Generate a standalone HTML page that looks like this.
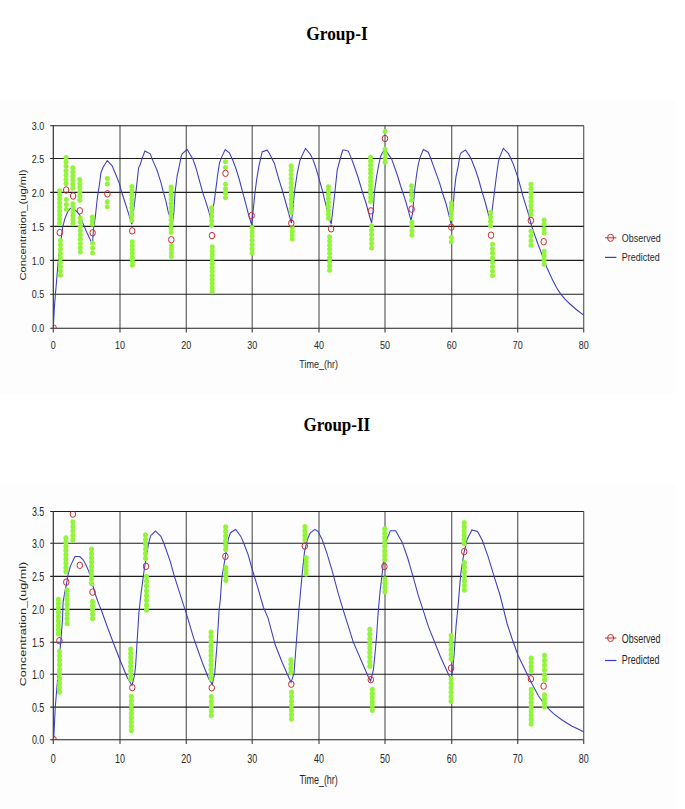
<!DOCTYPE html>
<html><head><meta charset="utf-8"><style>
html,body{margin:0;padding:0;background:#fff;}
body{width:685px;height:809px;overflow:hidden;position:relative;}
svg{position:absolute;left:0;top:0;}
text{font-family:"Liberation Sans",sans-serif;fill:#262626;}
.t{font-family:"Liberation Serif",serif;font-weight:bold;fill:#000;}
</style></head><body>
<svg width="685" height="809" viewBox="0 0 685 809">
<rect x="0" y="99.6" width="675.5" height="295" fill="#fdfdfd"/>
<rect x="0" y="483.2" width="675.5" height="326" fill="#fdfdfd"/>
<text class="t" transform="translate(337,39.5) scale(0.917,1)" font-size="18.9" text-anchor="middle">Group-I</text>
<text class="t" transform="translate(336.8,431.2) scale(0.9,1)" font-size="18.9" text-anchor="middle">Group-II</text>
<line x1="120" y1="125.7" x2="120" y2="328.2" stroke="#606060" stroke-width="1.2"/>
<line x1="186.3" y1="125.7" x2="186.3" y2="328.2" stroke="#606060" stroke-width="1.2"/>
<line x1="252.2" y1="125.7" x2="252.2" y2="328.2" stroke="#606060" stroke-width="1.2"/>
<line x1="319" y1="125.7" x2="319" y2="328.2" stroke="#606060" stroke-width="1.2"/>
<line x1="385" y1="125.7" x2="385" y2="328.2" stroke="#606060" stroke-width="1.2"/>
<line x1="451.7" y1="125.7" x2="451.7" y2="328.2" stroke="#606060" stroke-width="1.2"/>
<line x1="517.7" y1="125.7" x2="517.7" y2="328.2" stroke="#606060" stroke-width="1.2"/>
<line x1="583.7" y1="125.7" x2="583.7" y2="328.2" stroke="#606060" stroke-width="1.2"/>
<line x1="50.2" y1="125.7" x2="583.7" y2="125.7" stroke="#1e1e1e" stroke-width="1.1"/>
<line x1="50.2" y1="158.5" x2="583.7" y2="158.5" stroke="#1e1e1e" stroke-width="1.1"/>
<line x1="50.2" y1="192.4" x2="583.7" y2="192.4" stroke="#1e1e1e" stroke-width="1.1"/>
<line x1="50.2" y1="226.4" x2="583.7" y2="226.4" stroke="#1e1e1e" stroke-width="1.1"/>
<line x1="50.2" y1="260.4" x2="583.7" y2="260.4" stroke="#1e1e1e" stroke-width="1.1"/>
<line x1="50.2" y1="294.3" x2="583.7" y2="294.3" stroke="#1e1e1e" stroke-width="1.1"/>
<line x1="50.2" y1="328.2" x2="583.7" y2="328.2" stroke="#1e1e1e" stroke-width="1.1"/>
<line x1="53.3" y1="125.2" x2="53.3" y2="328.7" stroke="#333" stroke-width="1.2"/>
<line x1="53.3" y1="328.2" x2="53.3" y2="332.5" stroke="#4a4a4a" stroke-width="1.2"/>
<line x1="120" y1="328.2" x2="120" y2="332.5" stroke="#4a4a4a" stroke-width="1.2"/>
<line x1="186.3" y1="328.2" x2="186.3" y2="332.5" stroke="#4a4a4a" stroke-width="1.2"/>
<line x1="252.2" y1="328.2" x2="252.2" y2="332.5" stroke="#4a4a4a" stroke-width="1.2"/>
<line x1="319" y1="328.2" x2="319" y2="332.5" stroke="#4a4a4a" stroke-width="1.2"/>
<line x1="385" y1="328.2" x2="385" y2="332.5" stroke="#4a4a4a" stroke-width="1.2"/>
<line x1="451.7" y1="328.2" x2="451.7" y2="332.5" stroke="#4a4a4a" stroke-width="1.2"/>
<line x1="517.7" y1="328.2" x2="517.7" y2="332.5" stroke="#4a4a4a" stroke-width="1.2"/>
<line x1="583.7" y1="328.2" x2="583.7" y2="332.5" stroke="#4a4a4a" stroke-width="1.2"/>
<polyline fill="none" stroke="#3b3bc0" stroke-width="1.05" stroke-linejoin="miter" points="53.3,328.2 54.2,310.4 55.4,294.3 56.7,279.5 57.9,264.6 59.4,252.3 60.5,243.5 61.5,236.2 62.6,227.6 64.8,218.9 67.8,211.5 70.4,208.3 73,208.6 75.6,210.4 78.2,213 80.5,216.5 82.6,222.6 87.1,233 90.8,241 92.6,242.6 93.4,230 95.3,217 97.4,197.3 99.2,186 101,172.5 103.1,167.3 107.3,160.5 112.1,165.8 115.7,174.2 119.4,183.6 121.5,191.5 124.7,201.5 128.3,212.9 131.9,224.3 134.1,206.8 136.4,187.9 138.6,167.8 140.2,164.5 142.5,157.3 144.9,151.1 150.3,153.9 151.9,158.4 157,170.1 160.9,182.3 163.1,191.2 165.9,201.2 168.1,211.3 172.4,224 173.9,212.2 175,193.3 177.2,175.6 179.4,165.6 181.1,156.7 182.2,153.9 187.2,149.4 189.4,153.3 192.8,158.9 195.6,166.7 199.3,180.1 202.7,192.3 206,202.4 208.8,211.3 211.4,221.5 212.7,211.3 214.4,200.1 216,187.9 217.7,174.5 219.4,163.4 221.1,158.4 225.2,149.5 229.4,152.8 232.7,160 236.1,169 239.3,179.5 242.7,192.3 246,204.6 248.8,215.7 251.6,224.6 253.3,209 254.9,193.5 256.6,180.1 258.8,166.7 262.2,151.7 267.2,150.2 269.4,153.4 274.4,163.4 278.3,177.3 282.2,190 286,203.5 288.8,213.5 291.4,223.2 292.7,211.3 294.4,192.3 297.2,173.4 299.9,160.6 301.1,157.8 305.5,148.4 310.5,154.5 312.7,158.9 315.5,166.7 318.5,176.8 322.1,189.5 324.9,201 327.7,212.4 331.2,224.3 332.7,211.3 334.9,192.3 337.2,170.1 339.9,160 342.7,150 344.4,150 348.3,151.1 351.6,158.9 354.4,166.7 357.8,176.5 360.5,185.5 363.5,195.5 366,203 368.8,213.5 371.6,223 373.3,209 374.4,192.3 376.6,176.7 378.8,164.5 380.5,156.7 382.7,152.2 385.5,150.6 389.4,155.6 391.6,158.9 394.4,166.7 397.8,176.5 400.5,185.5 403.5,194.5 406,202.4 408.8,212.4 411,220.7 412.7,212.4 414.4,192.3 416.6,174.5 418.3,164.5 419.9,157.8 423.3,149.5 428.3,152.2 430.5,157.8 433.3,165.6 436.1,173.4 439.4,182.3 442.8,194 446,203.5 448.8,214.6 451,223.5 452.7,211.3 454.4,190.1 456,176.7 458.3,165.6 459.9,155.6 461.1,152.8 465.5,150 469.4,155.6 471.6,160 475.5,170 478.5,179 481.5,190 485,201.5 488.2,213.5 490.5,222.5 492.1,210.2 494.4,192.3 496.6,174.5 498.3,162.3 499.4,157.8 503.3,148.4 508.3,153.4 510.5,157.8 513.9,165.6 516.1,172.3 518.3,179 520.5,186.8 522.8,195.7 525.8,205.4 528.6,214.5 531.9,227 537.1,241.7 542.3,255.5 546.6,267 552.6,280 556.5,287.5 560.4,293.6 565,299.2 569.9,304 576.9,310 583.7,315.2"/>
<g fill="#92f53a"><ellipse cx="59.6" cy="190.8" rx="2.5" ry="2.5"/><ellipse cx="59.6" cy="194.83" rx="2.5" ry="2.5"/><ellipse cx="59.6" cy="198.85" rx="2.5" ry="2.5"/><ellipse cx="59.6" cy="202.88" rx="2.5" ry="2.5"/><ellipse cx="59.6" cy="206.9" rx="2.5" ry="2.5"/><ellipse cx="59.6" cy="210.93" rx="2.5" ry="2.5"/><ellipse cx="59.6" cy="214.95" rx="2.5" ry="2.5"/><ellipse cx="59.6" cy="218.97" rx="2.5" ry="2.5"/><ellipse cx="59.6" cy="223" rx="2.5" ry="2.5"/><ellipse cx="60.4" cy="240.5" rx="2.5" ry="2.5"/><ellipse cx="60.4" cy="244.84" rx="2.5" ry="2.5"/><ellipse cx="60.4" cy="249.18" rx="2.5" ry="2.5"/><ellipse cx="60.4" cy="253.51" rx="2.5" ry="2.5"/><ellipse cx="60.4" cy="257.85" rx="2.5" ry="2.5"/><ellipse cx="60.4" cy="262.19" rx="2.5" ry="2.5"/><ellipse cx="60.4" cy="266.52" rx="2.5" ry="2.5"/><ellipse cx="60.4" cy="270.86" rx="2.5" ry="2.5"/><ellipse cx="60.4" cy="275.2" rx="2.5" ry="2.5"/><ellipse cx="66" cy="157.5" rx="2.5" ry="2.5"/><ellipse cx="66" cy="161.88" rx="2.5" ry="2.5"/><ellipse cx="66" cy="166.27" rx="2.5" ry="2.5"/><ellipse cx="66" cy="170.65" rx="2.5" ry="2.5"/><ellipse cx="66" cy="175.03" rx="2.5" ry="2.5"/><ellipse cx="66" cy="179.42" rx="2.5" ry="2.5"/><ellipse cx="66" cy="183.8" rx="2.5" ry="2.5"/><ellipse cx="66.3" cy="199.6" rx="2.5" ry="2.5"/><ellipse cx="66.3" cy="204.45" rx="2.5" ry="2.5"/><ellipse cx="66.3" cy="209.3" rx="2.5" ry="2.5"/><ellipse cx="72.8" cy="167.8" rx="2.5" ry="2.5"/><ellipse cx="72.8" cy="171.9" rx="2.5" ry="2.5"/><ellipse cx="72.8" cy="176" rx="2.5" ry="2.5"/><ellipse cx="72.8" cy="180.1" rx="2.5" ry="2.5"/><ellipse cx="72.8" cy="184.2" rx="2.5" ry="2.5"/><ellipse cx="72.8" cy="188.3" rx="2.5" ry="2.5"/><ellipse cx="73" cy="203.8" rx="2.5" ry="2.5"/><ellipse cx="73" cy="207.78" rx="2.5" ry="2.5"/><ellipse cx="73" cy="211.76" rx="2.5" ry="2.5"/><ellipse cx="73" cy="215.74" rx="2.5" ry="2.5"/><ellipse cx="73" cy="219.72" rx="2.5" ry="2.5"/><ellipse cx="73" cy="223.7" rx="2.5" ry="2.5"/><ellipse cx="79.8" cy="179.5" rx="2.5" ry="2.5"/><ellipse cx="79.8" cy="183.64" rx="2.5" ry="2.5"/><ellipse cx="79.8" cy="187.78" rx="2.5" ry="2.5"/><ellipse cx="79.8" cy="191.92" rx="2.5" ry="2.5"/><ellipse cx="79.8" cy="196.06" rx="2.5" ry="2.5"/><ellipse cx="79.8" cy="200.2" rx="2.5" ry="2.5"/><ellipse cx="80.3" cy="217.8" rx="2.5" ry="2.5"/><ellipse cx="80.3" cy="222.09" rx="2.5" ry="2.5"/><ellipse cx="80.3" cy="226.38" rx="2.5" ry="2.5"/><ellipse cx="80.3" cy="230.66" rx="2.5" ry="2.5"/><ellipse cx="80.3" cy="234.95" rx="2.5" ry="2.5"/><ellipse cx="80.3" cy="239.24" rx="2.5" ry="2.5"/><ellipse cx="80.3" cy="243.53" rx="2.5" ry="2.5"/><ellipse cx="80.3" cy="247.81" rx="2.5" ry="2.5"/><ellipse cx="80.3" cy="252.1" rx="2.5" ry="2.5"/><ellipse cx="92.3" cy="217" rx="2.5" ry="2.5"/><ellipse cx="92.3" cy="220.65" rx="2.5" ry="2.5"/><ellipse cx="92.3" cy="224.3" rx="2.5" ry="2.5"/><ellipse cx="92.5" cy="243" rx="2.5" ry="2.5"/><ellipse cx="92.5" cy="247.9" rx="2.5" ry="2.5"/><ellipse cx="92.5" cy="252.8" rx="2.5" ry="2.5"/><ellipse cx="107.3" cy="178.4" rx="2.5" ry="2.5"/><ellipse cx="107.3" cy="183.9" rx="2.5" ry="2.5"/><ellipse cx="107.3" cy="201.7" rx="2.5" ry="2.5"/><ellipse cx="107.3" cy="206.7" rx="2.5" ry="2.5"/><ellipse cx="131.8" cy="186.6" rx="2.5" ry="2.5"/><ellipse cx="131.8" cy="190.84" rx="2.5" ry="2.5"/><ellipse cx="131.8" cy="195.07" rx="2.5" ry="2.5"/><ellipse cx="131.8" cy="199.31" rx="2.5" ry="2.5"/><ellipse cx="131.8" cy="203.55" rx="2.5" ry="2.5"/><ellipse cx="131.8" cy="207.79" rx="2.5" ry="2.5"/><ellipse cx="131.8" cy="212.03" rx="2.5" ry="2.5"/><ellipse cx="131.8" cy="216.26" rx="2.5" ry="2.5"/><ellipse cx="131.8" cy="220.5" rx="2.5" ry="2.5"/><ellipse cx="132.3" cy="241.8" rx="2.5" ry="2.5"/><ellipse cx="132.3" cy="245.72" rx="2.5" ry="2.5"/><ellipse cx="132.3" cy="249.63" rx="2.5" ry="2.5"/><ellipse cx="132.3" cy="253.55" rx="2.5" ry="2.5"/><ellipse cx="132.3" cy="257.47" rx="2.5" ry="2.5"/><ellipse cx="132.3" cy="261.38" rx="2.5" ry="2.5"/><ellipse cx="132.3" cy="265.3" rx="2.5" ry="2.5"/><ellipse cx="171.1" cy="186.9" rx="2.5" ry="2.5"/><ellipse cx="171.1" cy="191.04" rx="2.5" ry="2.5"/><ellipse cx="171.1" cy="195.17" rx="2.5" ry="2.5"/><ellipse cx="171.1" cy="199.31" rx="2.5" ry="2.5"/><ellipse cx="171.1" cy="203.45" rx="2.5" ry="2.5"/><ellipse cx="171.1" cy="207.58" rx="2.5" ry="2.5"/><ellipse cx="171.1" cy="211.72" rx="2.5" ry="2.5"/><ellipse cx="171.1" cy="215.85" rx="2.5" ry="2.5"/><ellipse cx="171.1" cy="219.99" rx="2.5" ry="2.5"/><ellipse cx="171.1" cy="224.13" rx="2.5" ry="2.5"/><ellipse cx="171.1" cy="228.26" rx="2.5" ry="2.5"/><ellipse cx="171.1" cy="232.4" rx="2.5" ry="2.5"/><ellipse cx="171.4" cy="245.8" rx="2.5" ry="2.5"/><ellipse cx="171.4" cy="249.33" rx="2.5" ry="2.5"/><ellipse cx="171.4" cy="252.87" rx="2.5" ry="2.5"/><ellipse cx="171.4" cy="256.4" rx="2.5" ry="2.5"/><ellipse cx="211.6" cy="207.8" rx="2.5" ry="2.5"/><ellipse cx="211.6" cy="212.15" rx="2.5" ry="2.5"/><ellipse cx="211.6" cy="216.5" rx="2.5" ry="2.5"/><ellipse cx="211.6" cy="220.85" rx="2.5" ry="2.5"/><ellipse cx="211.6" cy="225.2" rx="2.5" ry="2.5"/><ellipse cx="212.2" cy="246.8" rx="2.5" ry="2.5"/><ellipse cx="212.2" cy="250.89" rx="2.5" ry="2.5"/><ellipse cx="212.2" cy="254.98" rx="2.5" ry="2.5"/><ellipse cx="212.2" cy="259.07" rx="2.5" ry="2.5"/><ellipse cx="212.2" cy="263.16" rx="2.5" ry="2.5"/><ellipse cx="212.2" cy="267.25" rx="2.5" ry="2.5"/><ellipse cx="212.2" cy="271.35" rx="2.5" ry="2.5"/><ellipse cx="212.2" cy="275.44" rx="2.5" ry="2.5"/><ellipse cx="212.2" cy="279.53" rx="2.5" ry="2.5"/><ellipse cx="212.2" cy="283.62" rx="2.5" ry="2.5"/><ellipse cx="212.2" cy="287.71" rx="2.5" ry="2.5"/><ellipse cx="212.2" cy="291.8" rx="2.5" ry="2.5"/><ellipse cx="225.4" cy="161.8" rx="2.5" ry="2.5"/><ellipse cx="225.4" cy="167.6" rx="2.5" ry="2.5"/><ellipse cx="225.5" cy="184.3" rx="2.5" ry="2.5"/><ellipse cx="225.5" cy="188.8" rx="2.5" ry="2.5"/><ellipse cx="225.5" cy="193.3" rx="2.5" ry="2.5"/><ellipse cx="225.5" cy="197.8" rx="2.5" ry="2.5"/><ellipse cx="252.1" cy="227.7" rx="2.5" ry="2.5"/><ellipse cx="252.1" cy="231.9" rx="2.5" ry="2.5"/><ellipse cx="252.1" cy="236.1" rx="2.5" ry="2.5"/><ellipse cx="252.1" cy="240.3" rx="2.5" ry="2.5"/><ellipse cx="252.1" cy="244.5" rx="2.5" ry="2.5"/><ellipse cx="252.1" cy="248.7" rx="2.5" ry="2.5"/><ellipse cx="252.1" cy="252.9" rx="2.5" ry="2.5"/><ellipse cx="291.2" cy="166" rx="2.5" ry="2.5"/><ellipse cx="291.2" cy="170.23" rx="2.5" ry="2.5"/><ellipse cx="291.2" cy="174.45" rx="2.5" ry="2.5"/><ellipse cx="291.2" cy="178.68" rx="2.5" ry="2.5"/><ellipse cx="291.2" cy="182.91" rx="2.5" ry="2.5"/><ellipse cx="291.2" cy="187.14" rx="2.5" ry="2.5"/><ellipse cx="291.2" cy="191.36" rx="2.5" ry="2.5"/><ellipse cx="291.2" cy="195.59" rx="2.5" ry="2.5"/><ellipse cx="291.2" cy="199.82" rx="2.5" ry="2.5"/><ellipse cx="291.2" cy="204.05" rx="2.5" ry="2.5"/><ellipse cx="291.2" cy="208.27" rx="2.5" ry="2.5"/><ellipse cx="291.2" cy="212.5" rx="2.5" ry="2.5"/><ellipse cx="292.2" cy="227.7" rx="2.5" ry="2.5"/><ellipse cx="292.2" cy="231.5" rx="2.5" ry="2.5"/><ellipse cx="292.2" cy="235.3" rx="2.5" ry="2.5"/><ellipse cx="292.2" cy="239.1" rx="2.5" ry="2.5"/><ellipse cx="328.4" cy="186.7" rx="2.5" ry="2.5"/><ellipse cx="328.4" cy="190.65" rx="2.5" ry="2.5"/><ellipse cx="328.4" cy="194.6" rx="2.5" ry="2.5"/><ellipse cx="328.4" cy="198.55" rx="2.5" ry="2.5"/><ellipse cx="328.4" cy="202.5" rx="2.5" ry="2.5"/><ellipse cx="328.4" cy="206.45" rx="2.5" ry="2.5"/><ellipse cx="328.4" cy="210.4" rx="2.5" ry="2.5"/><ellipse cx="328.4" cy="214.35" rx="2.5" ry="2.5"/><ellipse cx="328.4" cy="218.3" rx="2.5" ry="2.5"/><ellipse cx="329.6" cy="236.8" rx="2.5" ry="2.5"/><ellipse cx="329.6" cy="240.98" rx="2.5" ry="2.5"/><ellipse cx="329.6" cy="245.15" rx="2.5" ry="2.5"/><ellipse cx="329.6" cy="249.32" rx="2.5" ry="2.5"/><ellipse cx="329.6" cy="253.5" rx="2.5" ry="2.5"/><ellipse cx="329.6" cy="257.68" rx="2.5" ry="2.5"/><ellipse cx="329.6" cy="261.85" rx="2.5" ry="2.5"/><ellipse cx="329.6" cy="266.02" rx="2.5" ry="2.5"/><ellipse cx="329.6" cy="270.2" rx="2.5" ry="2.5"/><ellipse cx="370.6" cy="157.2" rx="2.5" ry="2.5"/><ellipse cx="370.6" cy="161.24" rx="2.5" ry="2.5"/><ellipse cx="370.6" cy="165.27" rx="2.5" ry="2.5"/><ellipse cx="370.6" cy="169.31" rx="2.5" ry="2.5"/><ellipse cx="370.6" cy="173.35" rx="2.5" ry="2.5"/><ellipse cx="370.6" cy="177.38" rx="2.5" ry="2.5"/><ellipse cx="370.6" cy="181.42" rx="2.5" ry="2.5"/><ellipse cx="370.6" cy="185.45" rx="2.5" ry="2.5"/><ellipse cx="370.6" cy="189.49" rx="2.5" ry="2.5"/><ellipse cx="370.6" cy="193.53" rx="2.5" ry="2.5"/><ellipse cx="370.6" cy="197.56" rx="2.5" ry="2.5"/><ellipse cx="370.6" cy="201.6" rx="2.5" ry="2.5"/><ellipse cx="371.6" cy="225.7" rx="2.5" ry="2.5"/><ellipse cx="371.6" cy="230.16" rx="2.5" ry="2.5"/><ellipse cx="371.6" cy="234.62" rx="2.5" ry="2.5"/><ellipse cx="371.6" cy="239.08" rx="2.5" ry="2.5"/><ellipse cx="371.6" cy="243.54" rx="2.5" ry="2.5"/><ellipse cx="371.6" cy="248" rx="2.5" ry="2.5"/><ellipse cx="385.1" cy="131.4" rx="2.5" ry="2.5"/><ellipse cx="385.1" cy="149.2" rx="2.5" ry="2.5"/><ellipse cx="385.1" cy="153.57" rx="2.5" ry="2.5"/><ellipse cx="385.1" cy="157.93" rx="2.5" ry="2.5"/><ellipse cx="385.1" cy="162.3" rx="2.5" ry="2.5"/><ellipse cx="411.5" cy="185.7" rx="2.5" ry="2.5"/><ellipse cx="411.5" cy="190.53" rx="2.5" ry="2.5"/><ellipse cx="411.5" cy="195.37" rx="2.5" ry="2.5"/><ellipse cx="411.5" cy="200.2" rx="2.5" ry="2.5"/><ellipse cx="411.9" cy="222" rx="2.5" ry="2.5"/><ellipse cx="411.9" cy="226.37" rx="2.5" ry="2.5"/><ellipse cx="411.9" cy="230.73" rx="2.5" ry="2.5"/><ellipse cx="411.9" cy="235.1" rx="2.5" ry="2.5"/><ellipse cx="451.3" cy="203.1" rx="2.5" ry="2.5"/><ellipse cx="451.3" cy="206.93" rx="2.5" ry="2.5"/><ellipse cx="451.3" cy="210.75" rx="2.5" ry="2.5"/><ellipse cx="451.3" cy="214.57" rx="2.5" ry="2.5"/><ellipse cx="451.3" cy="218.4" rx="2.5" ry="2.5"/><ellipse cx="451.3" cy="237.3" rx="2.5" ry="2.5"/><ellipse cx="451.3" cy="241.7" rx="2.5" ry="2.5"/><ellipse cx="490.5" cy="212.5" rx="2.5" ry="2.5"/><ellipse cx="490.5" cy="217.03" rx="2.5" ry="2.5"/><ellipse cx="490.5" cy="221.57" rx="2.5" ry="2.5"/><ellipse cx="490.5" cy="226.1" rx="2.5" ry="2.5"/><ellipse cx="492.5" cy="244.3" rx="2.5" ry="2.5"/><ellipse cx="492.5" cy="248.74" rx="2.5" ry="2.5"/><ellipse cx="492.5" cy="253.19" rx="2.5" ry="2.5"/><ellipse cx="492.5" cy="257.63" rx="2.5" ry="2.5"/><ellipse cx="492.5" cy="262.07" rx="2.5" ry="2.5"/><ellipse cx="492.5" cy="266.51" rx="2.5" ry="2.5"/><ellipse cx="492.5" cy="270.96" rx="2.5" ry="2.5"/><ellipse cx="492.5" cy="275.4" rx="2.5" ry="2.5"/><ellipse cx="531" cy="184.2" rx="2.5" ry="2.5"/><ellipse cx="531" cy="188.53" rx="2.5" ry="2.5"/><ellipse cx="531" cy="192.86" rx="2.5" ry="2.5"/><ellipse cx="531" cy="197.19" rx="2.5" ry="2.5"/><ellipse cx="531" cy="201.51" rx="2.5" ry="2.5"/><ellipse cx="531" cy="205.84" rx="2.5" ry="2.5"/><ellipse cx="531" cy="210.17" rx="2.5" ry="2.5"/><ellipse cx="531" cy="214.5" rx="2.5" ry="2.5"/><ellipse cx="531" cy="231.3" rx="2.5" ry="2.5"/><ellipse cx="531" cy="235.93" rx="2.5" ry="2.5"/><ellipse cx="531" cy="240.57" rx="2.5" ry="2.5"/><ellipse cx="531" cy="245.2" rx="2.5" ry="2.5"/><ellipse cx="544.1" cy="220" rx="2.5" ry="2.5"/><ellipse cx="544.1" cy="224.33" rx="2.5" ry="2.5"/><ellipse cx="544.1" cy="228.67" rx="2.5" ry="2.5"/><ellipse cx="544.1" cy="233" rx="2.5" ry="2.5"/><ellipse cx="544.1" cy="251.2" rx="2.5" ry="2.5"/><ellipse cx="544.1" cy="255.53" rx="2.5" ry="2.5"/><ellipse cx="544.1" cy="259.87" rx="2.5" ry="2.5"/><ellipse cx="544.1" cy="264.2" rx="2.5" ry="2.5"/></g>
<clipPath id="c125"><rect x="53.3" y="125.7" width="530.4" height="202.5"/></clipPath>
<g clip-path="url(#c125)"><g fill="none" stroke="#cc2a2a" stroke-width="1"><ellipse cx="53.6" cy="328" rx="2.75" ry="3.25"/><ellipse cx="59.8" cy="232.6" rx="2.75" ry="3.25"/><ellipse cx="66.2" cy="190" rx="2.75" ry="3.25"/><ellipse cx="73.1" cy="196" rx="2.75" ry="3.25"/><ellipse cx="79.8" cy="210.8" rx="2.75" ry="3.25"/><ellipse cx="92.6" cy="232.8" rx="2.75" ry="3.25"/><ellipse cx="107.4" cy="193.8" rx="2.75" ry="3.25"/><ellipse cx="132.2" cy="230.9" rx="2.75" ry="3.25"/><ellipse cx="171.3" cy="239.7" rx="2.75" ry="3.25"/><ellipse cx="212" cy="235.6" rx="2.75" ry="3.25"/><ellipse cx="225.5" cy="173.3" rx="2.75" ry="3.25"/><ellipse cx="251.6" cy="215.5" rx="2.75" ry="3.25"/><ellipse cx="291.3" cy="223.2" rx="2.75" ry="3.25"/><ellipse cx="331.1" cy="228.8" rx="2.75" ry="3.25"/><ellipse cx="371" cy="210.9" rx="2.75" ry="3.25"/><ellipse cx="385" cy="138.5" rx="2.75" ry="3.25"/><ellipse cx="411.6" cy="209.1" rx="2.75" ry="3.25"/><ellipse cx="451.3" cy="227.1" rx="2.75" ry="3.25"/><ellipse cx="491" cy="235.2" rx="2.75" ry="3.25"/><ellipse cx="530.9" cy="220.5" rx="2.75" ry="3.25"/><ellipse cx="543.7" cy="241.7" rx="2.75" ry="3.25"/></g></g>
<text transform="translate(44.3,129.89) scale(0.8,1)" font-size="11.22" text-anchor="end">3.0</text>
<text transform="translate(44.3,162.69) scale(0.8,1)" font-size="11.22" text-anchor="end">2.5</text>
<text transform="translate(44.3,196.59) scale(0.8,1)" font-size="11.22" text-anchor="end">2.0</text>
<text transform="translate(44.3,230.59) scale(0.8,1)" font-size="11.22" text-anchor="end">1.5</text>
<text transform="translate(44.3,264.59) scale(0.8,1)" font-size="11.22" text-anchor="end">1.0</text>
<text transform="translate(44.3,298.49) scale(0.8,1)" font-size="11.22" text-anchor="end">0.5</text>
<text transform="translate(44.3,332.39) scale(0.8,1)" font-size="11.22" text-anchor="end">0.0</text>
<text transform="translate(53.3,348.8) scale(0.8,1)" font-size="11.22" text-anchor="middle">0</text>
<text transform="translate(120,348.8) scale(0.8,1)" font-size="11.22" text-anchor="middle">10</text>
<text transform="translate(186.3,348.8) scale(0.8,1)" font-size="11.22" text-anchor="middle">20</text>
<text transform="translate(252.2,348.8) scale(0.8,1)" font-size="11.22" text-anchor="middle">30</text>
<text transform="translate(319,348.8) scale(0.8,1)" font-size="11.22" text-anchor="middle">40</text>
<text transform="translate(385,348.8) scale(0.8,1)" font-size="11.22" text-anchor="middle">50</text>
<text transform="translate(451.7,348.8) scale(0.8,1)" font-size="11.22" text-anchor="middle">60</text>
<text transform="translate(517.7,348.8) scale(0.8,1)" font-size="11.22" text-anchor="middle">70</text>
<text transform="translate(583.7,348.8) scale(0.8,1)" font-size="11.22" text-anchor="middle">80</text>
<text transform="translate(318.6,367.8) scale(0.8,1)" font-size="11.22" text-anchor="middle">Time_(hr)</text>
<text transform="translate(26.1,225.1) scale(0.8,1) rotate(-90)" font-size="11.22" text-anchor="middle">Concentration_(ug/ml)</text>
<line x1="605" y1="237.8" x2="616.4" y2="237.8" stroke="#cc2a2a" stroke-width="1"/>
<ellipse cx="610.6" cy="237.8" rx="3" ry="3.6" fill="none" stroke="#cc2a2a" stroke-width="1"/>
<text transform="translate(621.8,242.2) scale(0.8,1)" font-size="11.22" text-anchor="start">Observed</text>
<line x1="605" y1="257.4" x2="616.4" y2="257.4" stroke="#3b3bc0" stroke-width="1.2"/>
<text transform="translate(621.8,261) scale(0.8,1)" font-size="11.22" text-anchor="start">Predicted</text>
<line x1="120" y1="511.5" x2="120" y2="739.8" stroke="#606060" stroke-width="1.2"/>
<line x1="186.3" y1="511.5" x2="186.3" y2="739.8" stroke="#606060" stroke-width="1.2"/>
<line x1="252.2" y1="511.5" x2="252.2" y2="739.8" stroke="#606060" stroke-width="1.2"/>
<line x1="319" y1="511.5" x2="319" y2="739.8" stroke="#606060" stroke-width="1.2"/>
<line x1="385" y1="511.5" x2="385" y2="739.8" stroke="#606060" stroke-width="1.2"/>
<line x1="451.7" y1="511.5" x2="451.7" y2="739.8" stroke="#606060" stroke-width="1.2"/>
<line x1="517.7" y1="511.5" x2="517.7" y2="739.8" stroke="#606060" stroke-width="1.2"/>
<line x1="583.7" y1="511.5" x2="583.7" y2="739.8" stroke="#606060" stroke-width="1.2"/>
<line x1="50.2" y1="511.5" x2="583.7" y2="511.5" stroke="#1e1e1e" stroke-width="1.1"/>
<line x1="50.2" y1="543.3" x2="583.7" y2="543.3" stroke="#1e1e1e" stroke-width="1.1"/>
<line x1="50.2" y1="576.4" x2="583.7" y2="576.4" stroke="#1e1e1e" stroke-width="1.1"/>
<line x1="50.2" y1="609.4" x2="583.7" y2="609.4" stroke="#1e1e1e" stroke-width="1.1"/>
<line x1="50.2" y1="642.3" x2="583.7" y2="642.3" stroke="#1e1e1e" stroke-width="1.1"/>
<line x1="50.2" y1="674.3" x2="583.7" y2="674.3" stroke="#1e1e1e" stroke-width="1.1"/>
<line x1="50.2" y1="707.1" x2="583.7" y2="707.1" stroke="#1e1e1e" stroke-width="1.1"/>
<line x1="50.2" y1="739.8" x2="583.7" y2="739.8" stroke="#1e1e1e" stroke-width="1.1"/>
<line x1="53.3" y1="511" x2="53.3" y2="740.3" stroke="#333" stroke-width="1.2"/>
<line x1="53.3" y1="739.8" x2="53.3" y2="744.1" stroke="#4a4a4a" stroke-width="1.2"/>
<line x1="120" y1="739.8" x2="120" y2="744.1" stroke="#4a4a4a" stroke-width="1.2"/>
<line x1="186.3" y1="739.8" x2="186.3" y2="744.1" stroke="#4a4a4a" stroke-width="1.2"/>
<line x1="252.2" y1="739.8" x2="252.2" y2="744.1" stroke="#4a4a4a" stroke-width="1.2"/>
<line x1="319" y1="739.8" x2="319" y2="744.1" stroke="#4a4a4a" stroke-width="1.2"/>
<line x1="385" y1="739.8" x2="385" y2="744.1" stroke="#4a4a4a" stroke-width="1.2"/>
<line x1="451.7" y1="739.8" x2="451.7" y2="744.1" stroke="#4a4a4a" stroke-width="1.2"/>
<line x1="517.7" y1="739.8" x2="517.7" y2="744.1" stroke="#4a4a4a" stroke-width="1.2"/>
<line x1="583.7" y1="739.8" x2="583.7" y2="744.1" stroke="#4a4a4a" stroke-width="1.2"/>
<polyline fill="none" stroke="#3b3bc0" stroke-width="1.05" stroke-linejoin="miter" points="53.3,739.8 53.8,737.4 55.3,706.7 57.5,680.4 60.4,645.6 62.5,620 63.1,601.9 65.1,590.7 66.4,584.6 68.2,574.2 70.3,566.4 72.9,560.8 75.1,556.5 79.8,556.5 82.9,559.5 85.9,564.7 88.9,571.6 92.8,585.5 95.8,595.8 99.3,605.4 101.2,609.8 107,626 113.5,643.2 119.7,659.2 127.1,677.2 132,685.5 134.52,675.46 135.64,665.41 137.1,641.47 138.88,612.88 140.94,594.35 142.99,578.89 144.1,570.7 148.5,543.7 150.7,535.7 155.5,531 160.9,536.4 163.8,543 170.4,561.9 174,575.1 179.1,591.1 184.2,607.2 186.3,613.4 193.5,637.6 202.4,662.7 208.7,678.8 212.3,684.3 214.8,672.9 217.2,642 219.1,609.9 220.3,600 221.8,578 224.7,560.5 228.4,538.6 230.5,532.7 235.7,529.5 240.8,536.4 243.7,543 248.1,554.6 252.4,570 257.6,586.8 263.4,607.2 268,617.9 275.2,644.8 282.3,662.7 287.5,674.5 291,682.3 294,673.5 296.3,643 298.5,614.3 302,575.7 304.5,551.6 307.7,538.7 310.1,533.1 314.9,529.4 318.1,531.5 322.1,539.5 326.9,553.2 332.6,572.4 338.2,593.3 343,609.4 353.3,642.1 362.2,662.7 368.6,677.5 370.6,681 373.4,670 375.2,652 376.6,635.8 378.2,612 380,592 382.3,572.4 384,556 386.4,540.3 390.4,530.7 395.6,530.7 402,541.9 407.7,558 413.3,577.3 418.1,594.9 422.9,609.4 428.5,626.9 440.7,657.3 449,675.5 451.3,679 452.8,668 454.2,653.7 456,626.9 458.3,603.6 460.7,574.1 463.9,553.2 467.1,539.5 471.9,529.9 477.5,531.5 482.3,540.3 488,556.4 494.4,577.3 500,595 507.2,624 512.5,640 517.9,655 525.1,670 532.3,684.5 538.5,696 546.6,707 553.8,713.8 562.7,720.5 571.7,726 583.7,731.8"/>
<g fill="#92f53a"><ellipse cx="58.4" cy="599.4" rx="2.5" ry="2.75"/><ellipse cx="58.4" cy="603.71" rx="2.5" ry="2.75"/><ellipse cx="58.4" cy="608.02" rx="2.5" ry="2.75"/><ellipse cx="58.4" cy="612.34" rx="2.5" ry="2.75"/><ellipse cx="58.4" cy="616.65" rx="2.5" ry="2.75"/><ellipse cx="58.4" cy="620.96" rx="2.5" ry="2.75"/><ellipse cx="58.4" cy="625.27" rx="2.5" ry="2.75"/><ellipse cx="58.4" cy="629.59" rx="2.5" ry="2.75"/><ellipse cx="58.4" cy="633.9" rx="2.5" ry="2.75"/><ellipse cx="59.5" cy="651.2" rx="2.5" ry="2.75"/><ellipse cx="59.5" cy="655.74" rx="2.5" ry="2.75"/><ellipse cx="59.5" cy="660.29" rx="2.5" ry="2.75"/><ellipse cx="59.5" cy="664.83" rx="2.5" ry="2.75"/><ellipse cx="59.5" cy="669.38" rx="2.5" ry="2.75"/><ellipse cx="59.5" cy="673.92" rx="2.5" ry="2.75"/><ellipse cx="59.5" cy="678.47" rx="2.5" ry="2.75"/><ellipse cx="59.5" cy="683.01" rx="2.5" ry="2.75"/><ellipse cx="59.5" cy="687.56" rx="2.5" ry="2.75"/><ellipse cx="59.5" cy="692.1" rx="2.5" ry="2.75"/><ellipse cx="65.9" cy="537.9" rx="2.5" ry="2.75"/><ellipse cx="65.9" cy="542.14" rx="2.5" ry="2.75"/><ellipse cx="65.9" cy="546.38" rx="2.5" ry="2.75"/><ellipse cx="65.9" cy="550.61" rx="2.5" ry="2.75"/><ellipse cx="65.9" cy="554.85" rx="2.5" ry="2.75"/><ellipse cx="65.9" cy="559.09" rx="2.5" ry="2.75"/><ellipse cx="65.9" cy="563.32" rx="2.5" ry="2.75"/><ellipse cx="65.9" cy="567.56" rx="2.5" ry="2.75"/><ellipse cx="65.9" cy="571.8" rx="2.5" ry="2.75"/><ellipse cx="67.1" cy="590.3" rx="2.5" ry="2.75"/><ellipse cx="67.1" cy="595.03" rx="2.5" ry="2.75"/><ellipse cx="67.1" cy="599.76" rx="2.5" ry="2.75"/><ellipse cx="67.1" cy="604.49" rx="2.5" ry="2.75"/><ellipse cx="67.1" cy="609.21" rx="2.5" ry="2.75"/><ellipse cx="67.1" cy="613.94" rx="2.5" ry="2.75"/><ellipse cx="67.1" cy="618.67" rx="2.5" ry="2.75"/><ellipse cx="67.1" cy="623.4" rx="2.5" ry="2.75"/><ellipse cx="72.9" cy="522.1" rx="2.5" ry="2.75"/><ellipse cx="72.9" cy="526.6" rx="2.5" ry="2.75"/><ellipse cx="72.9" cy="531.1" rx="2.5" ry="2.75"/><ellipse cx="72.9" cy="535.6" rx="2.5" ry="2.75"/><ellipse cx="72.9" cy="540.1" rx="2.5" ry="2.75"/><ellipse cx="91.5" cy="549.3" rx="2.5" ry="2.75"/><ellipse cx="91.5" cy="553.57" rx="2.5" ry="2.75"/><ellipse cx="91.5" cy="557.85" rx="2.5" ry="2.75"/><ellipse cx="91.5" cy="562.12" rx="2.5" ry="2.75"/><ellipse cx="91.5" cy="566.4" rx="2.5" ry="2.75"/><ellipse cx="91.5" cy="570.67" rx="2.5" ry="2.75"/><ellipse cx="91.5" cy="574.95" rx="2.5" ry="2.75"/><ellipse cx="91.5" cy="579.23" rx="2.5" ry="2.75"/><ellipse cx="91.5" cy="583.5" rx="2.5" ry="2.75"/><ellipse cx="92.5" cy="601.6" rx="2.5" ry="2.75"/><ellipse cx="92.5" cy="605.8" rx="2.5" ry="2.75"/><ellipse cx="92.5" cy="610" rx="2.5" ry="2.75"/><ellipse cx="92.5" cy="614.2" rx="2.5" ry="2.75"/><ellipse cx="92.5" cy="618.4" rx="2.5" ry="2.75"/><ellipse cx="130.7" cy="649.3" rx="2.5" ry="2.75"/><ellipse cx="130.7" cy="653.54" rx="2.5" ry="2.75"/><ellipse cx="130.7" cy="657.79" rx="2.5" ry="2.75"/><ellipse cx="130.7" cy="662.03" rx="2.5" ry="2.75"/><ellipse cx="130.7" cy="666.27" rx="2.5" ry="2.75"/><ellipse cx="130.7" cy="670.51" rx="2.5" ry="2.75"/><ellipse cx="130.7" cy="674.76" rx="2.5" ry="2.75"/><ellipse cx="130.7" cy="679" rx="2.5" ry="2.75"/><ellipse cx="131.4" cy="696.6" rx="2.5" ry="2.75"/><ellipse cx="131.4" cy="700.83" rx="2.5" ry="2.75"/><ellipse cx="131.4" cy="705.05" rx="2.5" ry="2.75"/><ellipse cx="131.4" cy="709.27" rx="2.5" ry="2.75"/><ellipse cx="131.4" cy="713.5" rx="2.5" ry="2.75"/><ellipse cx="131.4" cy="717.73" rx="2.5" ry="2.75"/><ellipse cx="131.4" cy="721.95" rx="2.5" ry="2.75"/><ellipse cx="131.4" cy="726.17" rx="2.5" ry="2.75"/><ellipse cx="131.4" cy="730.4" rx="2.5" ry="2.75"/><ellipse cx="145.5" cy="534.9" rx="2.5" ry="2.75"/><ellipse cx="145.5" cy="539.58" rx="2.5" ry="2.75"/><ellipse cx="145.5" cy="544.26" rx="2.5" ry="2.75"/><ellipse cx="145.5" cy="548.94" rx="2.5" ry="2.75"/><ellipse cx="145.5" cy="553.62" rx="2.5" ry="2.75"/><ellipse cx="145.5" cy="558.3" rx="2.5" ry="2.75"/><ellipse cx="146.5" cy="576.5" rx="2.5" ry="2.75"/><ellipse cx="146.5" cy="581.27" rx="2.5" ry="2.75"/><ellipse cx="146.5" cy="586.04" rx="2.5" ry="2.75"/><ellipse cx="146.5" cy="590.81" rx="2.5" ry="2.75"/><ellipse cx="146.5" cy="595.59" rx="2.5" ry="2.75"/><ellipse cx="146.5" cy="600.36" rx="2.5" ry="2.75"/><ellipse cx="146.5" cy="605.13" rx="2.5" ry="2.75"/><ellipse cx="146.5" cy="609.9" rx="2.5" ry="2.75"/><ellipse cx="211" cy="632.2" rx="2.5" ry="2.75"/><ellipse cx="211" cy="636.86" rx="2.5" ry="2.75"/><ellipse cx="211" cy="641.52" rx="2.5" ry="2.75"/><ellipse cx="211" cy="646.18" rx="2.5" ry="2.75"/><ellipse cx="211" cy="650.84" rx="2.5" ry="2.75"/><ellipse cx="211" cy="655.5" rx="2.5" ry="2.75"/><ellipse cx="211" cy="660.16" rx="2.5" ry="2.75"/><ellipse cx="211" cy="664.82" rx="2.5" ry="2.75"/><ellipse cx="211" cy="669.48" rx="2.5" ry="2.75"/><ellipse cx="211" cy="674.14" rx="2.5" ry="2.75"/><ellipse cx="211" cy="678.8" rx="2.5" ry="2.75"/><ellipse cx="211.3" cy="696.7" rx="2.5" ry="2.75"/><ellipse cx="211.3" cy="701.43" rx="2.5" ry="2.75"/><ellipse cx="211.3" cy="706.15" rx="2.5" ry="2.75"/><ellipse cx="211.3" cy="710.88" rx="2.5" ry="2.75"/><ellipse cx="211.3" cy="715.6" rx="2.5" ry="2.75"/><ellipse cx="225.6" cy="526.9" rx="2.5" ry="2.75"/><ellipse cx="225.6" cy="531.42" rx="2.5" ry="2.75"/><ellipse cx="225.6" cy="535.94" rx="2.5" ry="2.75"/><ellipse cx="225.6" cy="540.46" rx="2.5" ry="2.75"/><ellipse cx="225.6" cy="544.98" rx="2.5" ry="2.75"/><ellipse cx="225.6" cy="549.5" rx="2.5" ry="2.75"/><ellipse cx="225.8" cy="567.8" rx="2.5" ry="2.75"/><ellipse cx="225.8" cy="571.93" rx="2.5" ry="2.75"/><ellipse cx="225.8" cy="576.07" rx="2.5" ry="2.75"/><ellipse cx="225.8" cy="580.2" rx="2.5" ry="2.75"/><ellipse cx="290.9" cy="660" rx="2.5" ry="2.75"/><ellipse cx="290.9" cy="664.2" rx="2.5" ry="2.75"/><ellipse cx="290.9" cy="668.4" rx="2.5" ry="2.75"/><ellipse cx="290.9" cy="672.6" rx="2.5" ry="2.75"/><ellipse cx="291.5" cy="692.3" rx="2.5" ry="2.75"/><ellipse cx="291.5" cy="696.77" rx="2.5" ry="2.75"/><ellipse cx="291.5" cy="701.23" rx="2.5" ry="2.75"/><ellipse cx="291.5" cy="705.7" rx="2.5" ry="2.75"/><ellipse cx="291.5" cy="710.17" rx="2.5" ry="2.75"/><ellipse cx="291.5" cy="714.63" rx="2.5" ry="2.75"/><ellipse cx="291.5" cy="719.1" rx="2.5" ry="2.75"/><ellipse cx="304.9" cy="526.7" rx="2.5" ry="2.75"/><ellipse cx="304.9" cy="530.97" rx="2.5" ry="2.75"/><ellipse cx="304.9" cy="535.23" rx="2.5" ry="2.75"/><ellipse cx="304.9" cy="539.5" rx="2.5" ry="2.75"/><ellipse cx="306.1" cy="558" rx="2.5" ry="2.75"/><ellipse cx="306.1" cy="562.02" rx="2.5" ry="2.75"/><ellipse cx="306.1" cy="566.05" rx="2.5" ry="2.75"/><ellipse cx="306.1" cy="570.08" rx="2.5" ry="2.75"/><ellipse cx="306.1" cy="574.1" rx="2.5" ry="2.75"/><ellipse cx="369.8" cy="629.6" rx="2.5" ry="2.75"/><ellipse cx="369.8" cy="634.19" rx="2.5" ry="2.75"/><ellipse cx="369.8" cy="638.77" rx="2.5" ry="2.75"/><ellipse cx="369.8" cy="643.36" rx="2.5" ry="2.75"/><ellipse cx="369.8" cy="647.95" rx="2.5" ry="2.75"/><ellipse cx="369.8" cy="652.54" rx="2.5" ry="2.75"/><ellipse cx="369.8" cy="657.12" rx="2.5" ry="2.75"/><ellipse cx="369.8" cy="661.71" rx="2.5" ry="2.75"/><ellipse cx="369.8" cy="666.3" rx="2.5" ry="2.75"/><ellipse cx="372.3" cy="689.6" rx="2.5" ry="2.75"/><ellipse cx="372.3" cy="693.72" rx="2.5" ry="2.75"/><ellipse cx="372.3" cy="697.84" rx="2.5" ry="2.75"/><ellipse cx="372.3" cy="701.96" rx="2.5" ry="2.75"/><ellipse cx="372.3" cy="706.08" rx="2.5" ry="2.75"/><ellipse cx="372.3" cy="710.2" rx="2.5" ry="2.75"/><ellipse cx="384.7" cy="529.1" rx="2.5" ry="2.75"/><ellipse cx="384.7" cy="533.46" rx="2.5" ry="2.75"/><ellipse cx="384.7" cy="537.81" rx="2.5" ry="2.75"/><ellipse cx="384.7" cy="542.17" rx="2.5" ry="2.75"/><ellipse cx="384.7" cy="546.53" rx="2.5" ry="2.75"/><ellipse cx="384.7" cy="550.89" rx="2.5" ry="2.75"/><ellipse cx="384.7" cy="555.24" rx="2.5" ry="2.75"/><ellipse cx="384.7" cy="559.6" rx="2.5" ry="2.75"/><ellipse cx="384.9" cy="578.9" rx="2.5" ry="2.75"/><ellipse cx="384.9" cy="583.17" rx="2.5" ry="2.75"/><ellipse cx="384.9" cy="587.43" rx="2.5" ry="2.75"/><ellipse cx="384.9" cy="591.7" rx="2.5" ry="2.75"/><ellipse cx="451.1" cy="635.8" rx="2.5" ry="2.75"/><ellipse cx="451.1" cy="640.46" rx="2.5" ry="2.75"/><ellipse cx="451.1" cy="645.12" rx="2.5" ry="2.75"/><ellipse cx="451.1" cy="649.78" rx="2.5" ry="2.75"/><ellipse cx="451.1" cy="654.44" rx="2.5" ry="2.75"/><ellipse cx="451.1" cy="659.1" rx="2.5" ry="2.75"/><ellipse cx="451.1" cy="678.8" rx="2.5" ry="2.75"/><ellipse cx="451.1" cy="683.28" rx="2.5" ry="2.75"/><ellipse cx="451.1" cy="687.76" rx="2.5" ry="2.75"/><ellipse cx="451.1" cy="692.24" rx="2.5" ry="2.75"/><ellipse cx="451.1" cy="696.72" rx="2.5" ry="2.75"/><ellipse cx="451.1" cy="701.2" rx="2.5" ry="2.75"/><ellipse cx="464.2" cy="522.7" rx="2.5" ry="2.75"/><ellipse cx="464.2" cy="526.86" rx="2.5" ry="2.75"/><ellipse cx="464.2" cy="531.02" rx="2.5" ry="2.75"/><ellipse cx="464.2" cy="535.18" rx="2.5" ry="2.75"/><ellipse cx="464.2" cy="539.34" rx="2.5" ry="2.75"/><ellipse cx="464.2" cy="543.5" rx="2.5" ry="2.75"/><ellipse cx="464.4" cy="562.8" rx="2.5" ry="2.75"/><ellipse cx="464.4" cy="567.35" rx="2.5" ry="2.75"/><ellipse cx="464.4" cy="571.9" rx="2.5" ry="2.75"/><ellipse cx="464.4" cy="576.45" rx="2.5" ry="2.75"/><ellipse cx="464.4" cy="581" rx="2.5" ry="2.75"/><ellipse cx="464.4" cy="585.55" rx="2.5" ry="2.75"/><ellipse cx="464.4" cy="590.1" rx="2.5" ry="2.75"/><ellipse cx="531.2" cy="658.3" rx="2.5" ry="2.75"/><ellipse cx="531.2" cy="662.47" rx="2.5" ry="2.75"/><ellipse cx="531.2" cy="666.63" rx="2.5" ry="2.75"/><ellipse cx="531.2" cy="670.8" rx="2.5" ry="2.75"/><ellipse cx="531.2" cy="689.6" rx="2.5" ry="2.75"/><ellipse cx="531.2" cy="693.89" rx="2.5" ry="2.75"/><ellipse cx="531.2" cy="698.17" rx="2.5" ry="2.75"/><ellipse cx="531.2" cy="702.46" rx="2.5" ry="2.75"/><ellipse cx="531.2" cy="706.75" rx="2.5" ry="2.75"/><ellipse cx="531.2" cy="711.04" rx="2.5" ry="2.75"/><ellipse cx="531.2" cy="715.33" rx="2.5" ry="2.75"/><ellipse cx="531.2" cy="719.61" rx="2.5" ry="2.75"/><ellipse cx="531.2" cy="723.9" rx="2.5" ry="2.75"/><ellipse cx="544.5" cy="655.6" rx="2.5" ry="2.75"/><ellipse cx="544.5" cy="660.44" rx="2.5" ry="2.75"/><ellipse cx="544.5" cy="665.28" rx="2.5" ry="2.75"/><ellipse cx="544.5" cy="670.12" rx="2.5" ry="2.75"/><ellipse cx="544.5" cy="674.96" rx="2.5" ry="2.75"/><ellipse cx="544.5" cy="679.8" rx="2.5" ry="2.75"/><ellipse cx="544.5" cy="695" rx="2.5" ry="2.75"/><ellipse cx="544.5" cy="698.9" rx="2.5" ry="2.75"/><ellipse cx="544.5" cy="702.8" rx="2.5" ry="2.75"/><ellipse cx="544.5" cy="706.7" rx="2.5" ry="2.75"/></g>
<clipPath id="c511"><rect x="53.3" y="511.5" width="530.4" height="228.3"/></clipPath>
<g clip-path="url(#c511)"><g fill="none" stroke="#cc2a2a" stroke-width="1"><ellipse cx="53.6" cy="739.5" rx="2.75" ry="3.25"/><ellipse cx="59.4" cy="640.7" rx="2.75" ry="3.25"/><ellipse cx="66.3" cy="582.1" rx="2.75" ry="3.25"/><ellipse cx="72.9" cy="514.1" rx="2.75" ry="3.25"/><ellipse cx="79.8" cy="565.3" rx="2.75" ry="3.25"/><ellipse cx="92.5" cy="592.1" rx="2.75" ry="3.25"/><ellipse cx="132.3" cy="687.6" rx="2.75" ry="3.25"/><ellipse cx="146" cy="566.3" rx="2.75" ry="3.25"/><ellipse cx="211.8" cy="687.8" rx="2.75" ry="3.25"/><ellipse cx="225.4" cy="556.4" rx="2.75" ry="3.25"/><ellipse cx="291.3" cy="684.2" rx="2.75" ry="3.25"/><ellipse cx="304.8" cy="546" rx="2.75" ry="3.25"/><ellipse cx="370.8" cy="679.7" rx="2.75" ry="3.25"/><ellipse cx="384.4" cy="566.5" rx="2.75" ry="3.25"/><ellipse cx="451.1" cy="668.1" rx="2.75" ry="3.25"/><ellipse cx="464.2" cy="551.6" rx="2.75" ry="3.25"/><ellipse cx="530.9" cy="678.9" rx="2.75" ry="3.25"/><ellipse cx="543.6" cy="686.1" rx="2.75" ry="3.25"/></g></g>
<text transform="translate(44.3,516.13) scale(0.71,1)" font-size="12.6" text-anchor="end">3.5</text>
<text transform="translate(44.3,547.93) scale(0.71,1)" font-size="12.6" text-anchor="end">3.0</text>
<text transform="translate(44.3,581.03) scale(0.71,1)" font-size="12.6" text-anchor="end">2.5</text>
<text transform="translate(44.3,614.03) scale(0.71,1)" font-size="12.6" text-anchor="end">2.0</text>
<text transform="translate(44.3,646.93) scale(0.71,1)" font-size="12.6" text-anchor="end">1.5</text>
<text transform="translate(44.3,678.93) scale(0.71,1)" font-size="12.6" text-anchor="end">1.0</text>
<text transform="translate(44.3,711.73) scale(0.71,1)" font-size="12.6" text-anchor="end">0.5</text>
<text transform="translate(44.3,744.43) scale(0.71,1)" font-size="12.6" text-anchor="end">0.0</text>
<text transform="translate(53.3,762.6) scale(0.71,1)" font-size="12.6" text-anchor="middle">0</text>
<text transform="translate(120,762.6) scale(0.71,1)" font-size="12.6" text-anchor="middle">10</text>
<text transform="translate(186.3,762.6) scale(0.71,1)" font-size="12.6" text-anchor="middle">20</text>
<text transform="translate(252.2,762.6) scale(0.71,1)" font-size="12.6" text-anchor="middle">30</text>
<text transform="translate(319,762.6) scale(0.71,1)" font-size="12.6" text-anchor="middle">40</text>
<text transform="translate(385,762.6) scale(0.71,1)" font-size="12.6" text-anchor="middle">50</text>
<text transform="translate(451.7,762.6) scale(0.71,1)" font-size="12.6" text-anchor="middle">60</text>
<text transform="translate(517.7,762.6) scale(0.71,1)" font-size="12.6" text-anchor="middle">70</text>
<text transform="translate(583.7,762.6) scale(0.71,1)" font-size="12.6" text-anchor="middle">80</text>
<text transform="translate(318.6,783.9) scale(0.71,1)" font-size="12.6" text-anchor="middle">Time_(hr)</text>
<text transform="translate(25.7,624) scale(0.71,1) rotate(-90)" font-size="12.6" text-anchor="middle">Concentration_(ug/ml)</text>
<line x1="605" y1="638" x2="616.4" y2="638" stroke="#cc2a2a" stroke-width="1"/>
<ellipse cx="610.6" cy="638" rx="3" ry="3.6" fill="none" stroke="#cc2a2a" stroke-width="1"/>
<text transform="translate(621.8,642.9) scale(0.71,1)" font-size="12.6" text-anchor="start">Observed</text>
<line x1="605" y1="660.5" x2="616.4" y2="660.5" stroke="#3b3bc0" stroke-width="1.2"/>
<text transform="translate(621.8,664.2) scale(0.71,1)" font-size="12.6" text-anchor="start">Predicted</text>
</svg>
</body></html>
